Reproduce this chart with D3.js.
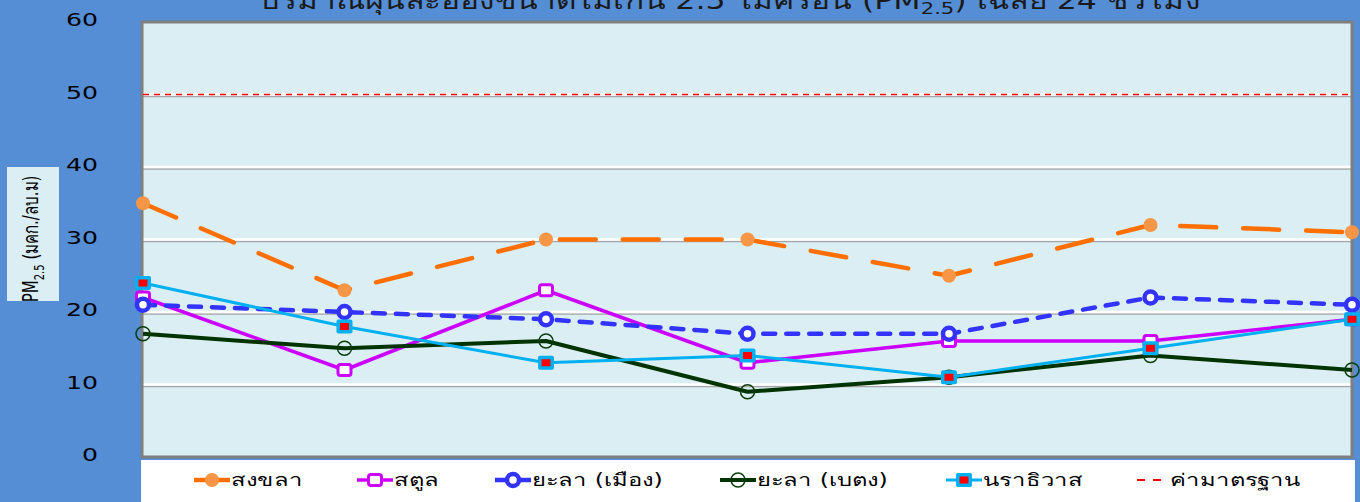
<!DOCTYPE html>
<html>
<head>
<meta charset="utf-8">
<script src="https://cdn.jsdelivr.net/npm/d3@7"></script>
<style>
  html, body { margin: 0; padding: 0; background: #558ED5; }
  svg { display: block; }
  text { font-family: Tahoma, "DejaVu Sans", "Noto Sans", sans-serif; }
</style>
</head>
<body>
<div id="chart"></div>
<script>
// days along the x axis (no tick labels shown in the picture)
var days = ["d1", "d2", "d3", "d4", "d5", "d6", "d7"];

var songkhla   = [35, 23, 30, 30, 25, 32, 31];
var satun      = [22, 12, 23, 13, 16, 16, 19];
var yalaMueang = [21, 20, 19, 17, 17, 22, 21];
var yalaBetong = [17, 15, 16, 9, 11, 14, 12];
var narathiwat = [24, 18, 13, 14, 11, 15, 19];
var standard   = 50;

var yTicks = [0, 10, 20, 30, 40, 50, 60];
var seriesNames = ["สงขลา", "สตูล", "ยะลา (เมือง)", "ยะลา (เบตง)", "นราธิวาส", "ค่ามาตรฐาน"];

const W = 1360, H = 502;
var margin = { top: 22, right: 8, bottom: 45, left: 143 };
// the original picture is stretched sideways, so text is widened to match
var stretch = 1.4;

var svg = d3.select("#chart").append("svg")
  .attr("width", W).attr("height", H);

var x = d3.scalePoint().domain(days).range([margin.left, W - margin.right]).padding(0);
var y = d3.scaleLinear().domain([0, 60]).range([H - margin.bottom, margin.top]);

// title, mostly cut off at the top edge
var title = svg.append("text")
  .attr("transform", "translate(730,9) scale(1.32,1)")
  .attr("text-anchor", "middle")
  .style("font-size", "24px")
  .style("fill", "#1a1a1a");
title.append("tspan").text("ปริมาณฝุ่นละอองขนาดไม่เกิน 2.5 ไมครอน (PM");
title.append("tspan").attr("dy", 5).style("font-size", "16px").text("2.5");
title.append("tspan").attr("dy", -5).text(") เฉลี่ย 24 ชั่วโมง");

// plot background
svg.append("rect")
  .attr("x", margin.left).attr("y", margin.top)
  .attr("width", W - margin.right - margin.left)
  .attr("height", H - margin.bottom - margin.top)
  .attr("fill", "#DAEEF3");

// gridlines: white with grey shadow
yTicks.filter(d => d > 0 && d < 60).forEach(function (t) {
  svg.append("line")
    .attr("x1", margin.left).attr("x2", W - margin.right)
    .attr("y1", y(t) + 2).attr("y2", y(t) + 2)
    .attr("stroke", "#A6A6A6").attr("stroke-width", 1.5);
  svg.append("line")
    .attr("x1", margin.left).attr("x2", W - margin.right)
    .attr("y1", y(t)).attr("y2", y(t))
    .attr("stroke", "#ffffff").attr("stroke-width", 2.5);
});

// border
svg.append("rect")
  .attr("x", margin.left - 1).attr("y", margin.top)
  .attr("width", W - margin.right - margin.left + 1)
  .attr("height", H - margin.bottom - margin.top)
  .attr("fill", "none").attr("stroke", "#7F7F7F").attr("stroke-width", 3);

// y axis labels
svg.append("g").selectAll("text")
  .data(yTicks)
  .join("text")
  .attr("transform", d => "translate(98," + (y(d) - 2) + ") scale(" + stretch + ",1)")
  .attr("text-anchor", "end")
  .attr("dy", "0.36em")
  .style("font-size", "18px")
  .style("fill", "#000")
  .style("font-family", "'DejaVu Sans', sans-serif")
  .text(d => d);

// y axis title box
svg.append("rect").attr("x", 7).attr("y", 167).attr("width", 52).attr("height", 134)
  .attr("fill", "#DAEEF3");
var yt = svg.append("text")
  .attr("transform", "translate(38,239) scale(" + stretch + ",1) rotate(-90)")
  .attr("text-anchor", "middle")
  .style("font-size", "15px").style("fill", "#000");
yt.append("tspan").text("PM");
yt.append("tspan").attr("dy", 4).style("font-size", "10px").text("2.5");
yt.append("tspan").attr("dy", -4).text(" (มคก./ลบ.ม)");

// standard line
svg.append("line")
  .attr("x1", margin.left).attr("x2", W - margin.right)
  .attr("y1", y(standard)).attr("y2", y(standard))
  .attr("stroke", "#FF0000").attr("stroke-width", 1.5)
  .attr("stroke-dasharray", "6,5");

var line = d3.line().x((d, i) => x(days[i])).y(d => y(d));

function drawLine(vals, color, width, dash) {
  svg.append("path").datum(vals)
    .attr("d", line)
    .attr("fill", "none")
    .attr("stroke", color)
    .attr("stroke-width", width)
    .attr("stroke-linecap", dash ? "round" : "butt")
    .attr("stroke-linejoin", "round")
    .attr("stroke-dasharray", dash || null);
}

// marker drawing helpers
function mOrange(g, cx, cy) {
  g.append("circle").attr("cx", cx).attr("cy", cy).attr("r", 7).attr("fill", "#F79646");
}
function mMagenta(g, cx, cy) {
  g.append("rect").attr("x", cx - 6.5).attr("y", cy - 5.5).attr("width", 13).attr("height", 11)
    .attr("rx", 2.5).attr("fill", "#fff").attr("stroke", "#CC00FF").attr("stroke-width", 3);
}
function mBlue(g, cx, cy) {
  g.append("circle").attr("cx", cx).attr("cy", cy).attr("r", 6)
    .attr("fill", "#fff").attr("stroke", "#3333FF").attr("stroke-width", 4.5);
}
function mGreen(g, cx, cy) {
  g.append("circle").attr("cx", cx).attr("cy", cy).attr("r", 7)
    .attr("fill", "none").attr("stroke", "#0B3D0B").attr("stroke-width", 1.5);
}
function mCyan(g, cx, cy) {
  g.append("rect").attr("x", cx - 8).attr("y", cy - 7).attr("width", 16).attr("height", 14)
    .attr("rx", 2).attr("fill", "#00B0F0");
  g.append("rect").attr("x", cx - 4.5).attr("y", cy - 3.5).attr("width", 9).attr("height", 7)
    .attr("fill", "#FF0000");
}

var series = [
  { vals: songkhla,   color: "#FF6F00", width: 4.5, dash: "36,27", marker: mOrange },
  { vals: satun,      color: "#CC00FF", width: 3.5, dash: null,    marker: mMagenta },
  { vals: yalaMueang, color: "#3333FF", width: 4.5, dash: "12,11", marker: mBlue },
  { vals: yalaBetong, color: "#003300", width: 4,   dash: null,    marker: mGreen },
  { vals: narathiwat, color: "#00B0F0", width: 3,   dash: null,    marker: mCyan }
];

series.forEach(function (s) {
  drawLine(s.vals, s.color, s.width, s.dash);
  var g = svg.append("g");
  s.vals.forEach(function (v, i) { s.marker(g, x(days[i]), y(v)); });
});

// legend band
svg.append("rect").attr("x", 141).attr("y", 460).attr("width", 1214).attr("height", 42)
  .attr("fill", "#ffffff");

var legendX = [194, 357, 495, 720, 946, 1137];
var legendY = 480;
function legendText(lx, label) {
  svg.append("text")
    .attr("transform", "translate(" + lx + "," + (legendY + 6) + ") scale(" + stretch + ",1)")
    .style("font-size", "17px").style("fill", "#000").text(label);
}
series.forEach(function (s, i) {
  var lx = legendX[i];
  svg.append("line").attr("x1", lx).attr("x2", lx + 36)
    .attr("y1", legendY).attr("y2", legendY)
    .attr("stroke", s.color).attr("stroke-width", s.width);
  var g = svg.append("g");
  s.marker(g, lx + 18, legendY);
  legendText(lx + 37, seriesNames[i]);
});
svg.append("line").attr("x1", 1137).attr("x2", 1169)
  .attr("y1", legendY).attr("y2", legendY)
  .attr("stroke", "#FF0000").attr("stroke-width", 2).attr("stroke-dasharray", "8,8");
legendText(1170, seriesNames[5]);
</script>
</body>
</html>
